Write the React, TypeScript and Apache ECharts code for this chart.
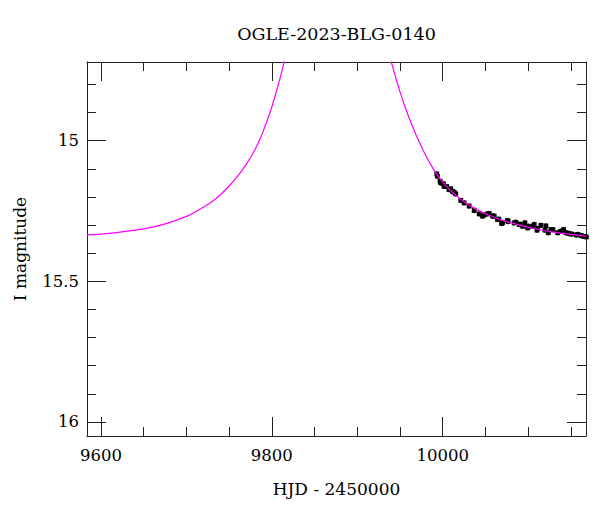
import React, { useEffect, useRef } from "react";
import * as echarts from "echarts";

// Model light curve (HJD-2450000, I mag): rising branch
const modelRiseT = [
  9583.6, 9600, 9620, 9640, 9660, 9680, 9700, 9710, 9720, 9731, 9740, 9750,
  9760, 9770, 9780, 9786, 9790, 9800, 9810, 9814, 9818,
];
const modelRiseMag = [
  15.335, 15.332, 15.326, 15.318, 15.307, 15.291, 15.269, 15.254, 15.236, 15.214, 15.191, 15.161,
  15.126, 15.084, 15.033, 14.995, 14.965, 14.879, 14.773, 14.724, 14.671,
];
// Model light curve: falling branch
const modelFallT = [
  9936, 9940, 9945, 9950, 9955, 9960, 9965, 9970, 9978, 9986, 9994, 10005,
  10015, 10025, 10040, 10055, 10070, 10090, 10110, 10130, 10150, 10168,
];
const modelFallMag = [
  14.68, 14.722, 14.776, 14.826, 14.872, 14.914, 14.952, 14.988, 15.04, 15.085, 15.124, 15.164,
  15.193, 15.217, 15.245, 15.266, 15.283, 15.3, 15.314, 15.325, 15.333, 15.339,
];

// Observed photometry
const obsT = [
  9993.0, 9993.8, 9996.9, 9997.7, 10000.8, 10001.5, 10004.7, 10007.4, 10009.4, 10011.4,
  10013.3, 10015.2, 10021.1, 10025.0, 10030.9, 10036.8, 10042.6, 10046.6, 10048.5, 10052.4,
  10054.4, 10058.3, 10060.2, 10064.1, 10065.7, 10068.8, 10070.0, 10075.9, 10076.6, 10083.6,
  10085.6, 10089.5, 10090.7, 10093.5, 10096.2, 10099.4, 10100.1, 10105.2, 10107.1, 10110.3,
  10111.1, 10114.9, 10119.7, 10120.8, 10123.6, 10126.7, 10129.0, 10134.5, 10138.0, 10141.5,
  10144.3, 10147.5, 10150.9, 10156.4, 10158.0, 10161.9, 10165.0, 10168.1,
];
const obsMag = [
  15.118, 15.126, 15.144, 15.15, 15.153, 15.162, 15.163, 15.174, 15.171, 15.18,
  15.183, 15.189, 15.212, 15.221, 15.232, 15.248, 15.26, 15.268, 15.264, 15.26,
  15.259, 15.268, 15.268, 15.28, 15.279, 15.294, 15.292, 15.284, 15.287, 15.292,
  15.29, 15.298, 15.297, 15.304, 15.292, 15.31, 15.304, 15.304, 15.298, 15.318,
  15.312, 15.301, 15.318, 15.303, 15.327, 15.316, 15.316, 15.327, 15.322, 15.316,
  15.327, 15.33, 15.332, 15.335, 15.333, 15.337, 15.34, 15.342,
];
const obsErr = [
  0.006, 0.006, 0.006, 0.006, 0.006, 0.006, 0.006, 0.006, 0.006, 0.006,
  0.006, 0.006, 0.006, 0.006, 0.006, 0.006, 0.006, 0.006, 0.006, 0.006,
  0.006, 0.006, 0.006, 0.006, 0.006, 0.006, 0.006, 0.006, 0.006, 0.006,
  0.006, 0.006, 0.006, 0.006, 0.006, 0.006, 0.006, 0.006, 0.006, 0.006,
  0.006, 0.006, 0.006, 0.006, 0.006, 0.006, 0.006, 0.006, 0.006, 0.006,
  0.006, 0.006, 0.006, 0.006, 0.006, 0.006, 0.006, 0.006,
];

const xMinorTicks = [9600, 9650, 9700, 9750, 9800, 9850, 9900, 9950, 10000, 10050, 10100, 10150];
const xMajorTicks = [9600, 9800, 10000];
const yMinorTicks = [14.8, 14.9, 15.0, 15.1, 15.2, 15.3, 15.4, 15.5, 15.6, 15.7, 15.8, 15.9, 16.0];
const yMajorTicks = [15, 15.5, 16];

const X_MIN = 9583.6;
const X_MAX = 10167.7;
const Y_MIN = 14.72;
const Y_MAX = 16.05;

const FONT = "DejaVu Serif";

export default function App() {
  const ref = useRef<HTMLDivElement>(null);
  useEffect(() => {
    document.body.style.margin = "0";
    if (!ref.current) return;
    const chart = echarts.init(ref.current, null, { renderer: "svg" });

    const tickStyle = { color: "#222", width: 1 };
    const mkX = (pos: string, major: boolean, labels: boolean, line: boolean) => ({
      type: "value",
      position: pos,
      min: X_MIN,
      max: X_MAX,
      axisLine: { show: line, onZero: false, lineStyle: { color: "#222", width: 1 } },
      axisTick: {
        show: true,
        inside: true,
        length: major ? 19 : 9,
        customValues: major ? xMajorTicks : xMinorTicks,
        lineStyle: tickStyle,
      },
      axisLabel: labels
        ? {
            show: true,
            customValues: xMajorTicks,
            margin: 11,
            fontFamily: FONT,
            fontSize: 16.5,
            color: "#000",
            formatter: (v: number) => String(v),
          }
        : { show: false },
      splitLine: { show: false },
      name: labels ? "HJD - 2450000" : "",
      nameLocation: "middle",
      nameGap: 44,
      nameTextStyle: { fontFamily: FONT, fontSize: 17, color: "#000" },
    });
    const mkY = (pos: string, major: boolean, labels: boolean, line: boolean) => ({
      type: "value",
      position: pos,
      inverse: true,
      min: Y_MIN,
      max: Y_MAX,
      axisLine: { show: line, onZero: false, lineStyle: { color: "#222", width: 1 } },
      axisTick: {
        show: true,
        inside: true,
        length: major ? 19 : 9,
        customValues: major ? yMajorTicks : yMinorTicks,
        lineStyle: tickStyle,
      },
      axisLabel: labels
        ? {
            show: true,
            customValues: yMajorTicks,
            margin: 8,
            fontFamily: FONT,
            fontSize: 16.5,
            color: "#000",
            formatter: (v: number) => String(v),
          }
        : { show: false },
      splitLine: { show: false },
      name: labels ? "I magnitude" : "",
      nameLocation: "middle",
      nameGap: 59,
      nameRotate: 90,
      nameTextStyle: { fontFamily: FONT, fontSize: 17, color: "#000" },
    });

    const riseData = modelRiseT.map((t, i) => [t, modelRiseMag[i]]);
    const fallData = modelFallT.map((t, i) => [t, modelFallMag[i]]);
    const obsData = obsT.map((t, i) => [t, obsMag[i], obsErr[i]]);

    const modelLine = (data: number[][]) => ({
      type: "line",
      xAxisIndex: 0,
      yAxisIndex: 0,
      data,
      showSymbol: false,
      smooth: 0.3,
      clip: true,
      lineStyle: { color: "#ff00ff", width: 1.2 },
      z: 3,
    });

    chart.setOption({
      animation: false,
      backgroundColor: "#ffffff",
      grid: { left: 87, right: 14, top: 62, bottom: 76, containLabel: false },
      graphic: [
        {
          type: "text",
          x: 336.5,
          y: 34,
          style: {
            text: "OGLE-2023-BLG-0140",
            fontFamily: FONT,
            fontSize: 17.5,
            fill: "#000",
            textAlign: "center",
            textVerticalAlign: "middle",
          },
        },
      ],
      xAxis: [
        mkX("bottom", false, false, true),
        mkX("bottom", true, true, false),
        mkX("top", false, false, true),
        mkX("top", true, false, false),
      ],
      yAxis: [
        mkY("left", false, false, true),
        mkY("left", true, true, false),
        mkY("right", false, false, true),
        mkY("right", true, false, false),
      ],
      series: [
        {
          type: "custom",
          xAxisIndex: 0,
          yAxisIndex: 0,
          data: obsData,
          z: 2,
          renderItem: (params: any, api: any) => {
            const t = api.value(0);
            const m = api.value(1);
            const e = api.value(2);
            const p = api.coord([t, m]);
            const lo = api.coord([t, m - e]);
            const hi = api.coord([t, m + e]);
            return {
              type: "group",
              children: [
                {
                  type: "line",
                  shape: { x1: p[0], y1: lo[1] - 1, x2: p[0], y2: hi[1] + 1 },
                  style: { stroke: "#000", lineWidth: 1.3 },
                },
                {
                  type: "rect",
                  shape: { x: p[0] - 2.4, y: p[1] - 2.4, width: 4.8, height: 4.8 },
                  style: { fill: "#000" },
                },
              ],
            };
          },
        },
        modelLine(riseData),
        modelLine(fallData),
      ],
    });
    return () => chart.dispose();
  }, []);
  return <div ref={ref} style={{ width: 600, height: 512 }} />;
}
